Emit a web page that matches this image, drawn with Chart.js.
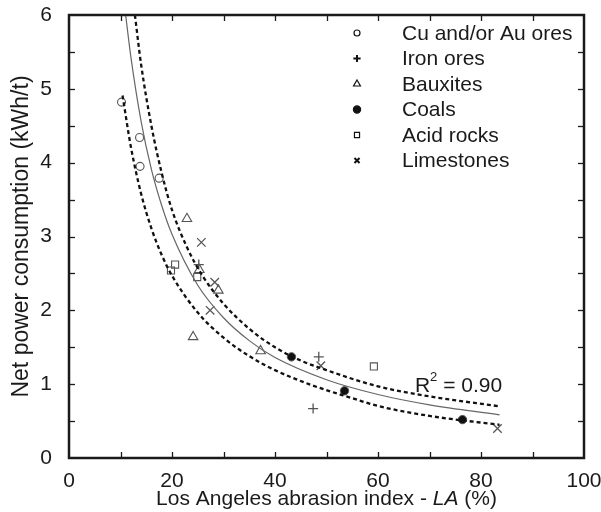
<!DOCTYPE html>
<html><head><meta charset="utf-8">
<script src="https://cdn.jsdelivr.net/npm/chart.js@4.4.0/dist/chart.umd.min.js"></script>
<style>html,body{margin:0;padding:0;background:#fff;overflow:hidden}</style>
</head><body>
<canvas id="c" width="601" height="512"></canvas>
<script>
// ---- tick labels ----
const xTickValues = [0, 20, 40, 60, 80, 100];
const yTickValues = [0, 1, 2, 3, 4, 5, 6];

// ---- measured points (LA %, kWh/t) ----
const cuAuX = [10.2, 13.7, 13.8, 17.5];
const cuAuY = [4.82, 4.34, 3.95, 3.79];
const ironX = [25.2, 48.5, 47.4];
const ironY = [2.62, 1.37, 0.67];
const bauxX = [22.9, 25.3, 29.0, 24.1, 37.2];
const bauxY = [3.24, 2.55, 2.27, 1.64, 1.45];
const coalX = [43.2, 53.5, 76.4];
const coalY = [1.37, 0.91, 0.52];
const acidX = [19.8, 20.6, 24.9, 59.2];
const acidY = [2.54, 2.62, 2.45, 1.24];
const limeX = [25.7, 28.3, 27.4, 48.9, 83.2];
const limeY = [2.92, 2.38, 2.00, 1.25, 0.40];

// ---- fitted curve and confidence band ----
const fitX = [11.0, 12, 14, 16, 18, 20, 25, 30, 35, 40, 50, 60, 70, 83.6];
const fitY = [6.0, 5.44, 4.56, 3.91, 3.42, 3.03, 2.34, 1.90, 1.59, 1.36, 1.06, 0.86, 0.72, 0.585];
const upX = [12.8, 14, 16, 18, 20, 23, 26, 30, 35, 40, 45, 50, 60, 70, 83.6];
const upY = [6.0, 5.33, 4.50, 3.86, 3.36, 2.84, 2.46, 2.09, 1.75, 1.50, 1.32, 1.19, 0.97, 0.835, 0.70];
const loX = [10.4, 12, 14, 16, 18, 20, 25, 30, 35, 40, 47, 55, 60, 70, 83.6];
const loY = [4.91, 4.22, 3.58, 3.11, 2.75, 2.47, 1.97, 1.63, 1.38, 1.19, 0.99, 0.81, 0.705, 0.57, 0.45];

const xTitleParts = ['Los Angeles abrasion index - ', 'LA', ' (%)'];
const yTitle = 'Net power consumption (kWh/t)';
const r2Text = 'R';
const r2Sup = '2';
const r2Rest = ' = 0.90';
const r2At = [84.1, 0.97];

const FONT = "'Liberation Sans', Arial, sans-serif";
const INK = '#1a1a1a';
const MARK = '#555555';

function pts(xs, ys) { return xs.map((x, i) => ({x: x, y: ys[i]})); }

function scatter(label, xs, ys, style, radius, fill, bw) {
  return {
    type: 'scatter', label: label, data: pts(xs, ys),
    pointStyle: style, pointRadius: radius, pointHoverRadius: radius,
    pointBackgroundColor: fill, pointBorderColor: MARK, pointBorderWidth: bw,
    showLine: false, legend: true
  };
}
function curve(xs, ys, dash, color, width) {
  return {
    type: 'line', label: '', data: pts(xs, ys), borderColor: color, borderWidth: width,
    borderDash: dash, pointRadius: 0, cubicInterpolationMode: 'monotone',
    fill: false, legend: false
  };
}

const datasets = [
  curve(fitX, fitY, [], '#666666', 1.2),
  curve(upX, upY, [4, 3], '#111111', 2.3),
  curve(loX, loY, [4, 3], '#111111', 2.3),
  scatter('Cu and/or Au ores', cuAuX, cuAuY, 'circle', 4, 'rgba(0,0,0,0)', 1.1),
  scatter('Iron ores', ironX, ironY, 'cross', 5, 'rgba(0,0,0,0)', 1.3),
  scatter('Bauxites', bauxX, bauxY, 'triangle', 5.5, 'rgba(0,0,0,0)', 1.1),
  scatter('Coals', coalX, coalY, 'circle', 4.2, '#111111', 1),
  scatter('Acid rocks', acidX, acidY, 'rect', 5, 'rgba(0,0,0,0)', 1.1),
  scatter('Limestones', limeX, limeY, 'crossRot', 6, 'rgba(0,0,0,0)', 1.3)
];

const framePlugin = {
  id: 'frame',
  afterDatasetsDraw(chart) {
    const ctx = chart.ctx, a = chart.chartArea;
    const xs = chart.scales.x, ys = chart.scales.y;
    ctx.save();
    ctx.strokeStyle = INK;
    // inward ticks
    ctx.lineWidth = 1.3;
    for (let v = 10; v < 100; v += 10) {
      const px = Math.round(xs.getPixelForValue(v)) + 0.5;
      ctx.beginPath(); ctx.moveTo(px, a.bottom); ctx.lineTo(px, a.bottom - 6); ctx.stroke();
      ctx.beginPath(); ctx.moveTo(px, a.top); ctx.lineTo(px, a.top + 6); ctx.stroke();
    }
    for (let v = 0.5; v < 6; v += 0.5) {
      const py = Math.round(ys.getPixelForValue(v)) + 0.5;
      ctx.beginPath(); ctx.moveTo(a.left, py); ctx.lineTo(a.left + 6, py); ctx.stroke();
      ctx.beginPath(); ctx.moveTo(a.right, py); ctx.lineTo(a.right - 6, py); ctx.stroke();
    }
    // box
    ctx.lineWidth = 2.5;
    ctx.strokeRect(a.left, a.top, a.right - a.left, a.bottom - a.top);

    // legend
    const lx = 357, tx = 402, ly0 = 33, dy = 25.5;
    let row = 0;
    ctx.font = '21px ' + FONT;
    ctx.textBaseline = 'middle';
    ctx.textAlign = 'left';
    chart.data.datasets.forEach(ds => {
      if (!ds.legend) return;
      const y = ly0 + row * dy;
      const r = ds.pointStyle === 'circle' && ds.pointBackgroundColor !== '#111111' ? 3 : (ds.pointStyle === 'triangle' ? 4 : 3.6);
      ctx.save();
      ctx.strokeStyle = '#111';
      ctx.fillStyle = ds.pointBackgroundColor;
      ctx.lineWidth = (ds.pointStyle === 'cross' || ds.pointStyle === 'crossRot') ? 2 : 1.2;
      Chart.helpers.drawPoint(ctx, {pointStyle: ds.pointStyle, radius: r, borderWidth: ctx.lineWidth}, lx, y);
      ctx.restore();
      ctx.fillStyle = INK;
      ctx.fillText(ds.label, tx, y + 1);
      row++;
    });

    // R^2 label
    const rx = xs.getPixelForValue(r2At[0]), ry = ys.getPixelForValue(r2At[1]);
    ctx.font = '21px ' + FONT;
    const wRest = ctx.measureText(r2Rest).width;
    const wR = ctx.measureText(r2Text).width;
    ctx.font = '13px ' + FONT;
    const wSup = ctx.measureText(r2Sup).width;
    let x0 = rx - wRest - wSup - wR;
    ctx.fillStyle = INK;
    ctx.font = '21px ' + FONT;
    ctx.fillText(r2Text, x0, ry);
    ctx.font = '13px ' + FONT;
    ctx.fillText(r2Sup, x0 + wR, ry - 9);
    ctx.font = '21px ' + FONT;
    ctx.fillText(r2Rest, x0 + wR + wSup, ry);

    // x-axis title with italic LA
    const fonts = ['21px ' + FONT, 'italic 21px ' + FONT, '21px ' + FONT];
    const widths = xTitleParts.map((t, i) => { ctx.font = fonts[i]; return ctx.measureText(t).width; });
    const total = widths.reduce((s, w) => s + w, 0);
    let cx = (a.left + a.right) / 2 - total / 2;
    const ty = 499;
    xTitleParts.forEach((t, i) => { ctx.font = fonts[i]; ctx.fillText(t, cx, ty); cx += widths[i]; });

    // y-axis title
    ctx.save();
    ctx.translate(22, (a.top + a.bottom) / 2);
    ctx.rotate(-Math.PI / 2);
    ctx.textAlign = 'center';
    ctx.font = '23px ' + FONT;
    ctx.fillText(yTitle, 0, 0);
    ctx.restore();
    ctx.restore();
  }
};

new Chart(document.getElementById('c'), {
  data: {datasets: datasets},
  options: {
    responsive: false, animation: false, devicePixelRatio: 1,
    layout: {padding: {left: 10, right: 17, top: 15, bottom: 0}},
    plugins: {legend: {display: false}, tooltip: {enabled: false}},
    elements: {point: {hitRadius: 0}},
    scales: {
      x: {
        type: 'linear', min: 0, max: 100,
        afterBuildTicks: s => { s.ticks = xTickValues.map(v => ({value: v})); },
        afterFit: s => { s.height = 54; s.paddingLeft = 0; s.paddingRight = 0; },
        grid: {display: false}, border: {display: false},
        ticks: {font: {family: FONT, size: 21}, color: INK, padding: 3, maxRotation: 0, autoSkip: false},
        title: {display: false}
      },
      y: {
        type: 'linear', min: 0, max: 6,
        afterBuildTicks: s => { s.ticks = yTickValues.map(v => ({value: v})); },
        afterFit: s => { s.width = 59; s.paddingTop = 0; s.paddingBottom = 0; },
        grid: {display: false}, border: {display: false},
        ticks: {font: {family: FONT, size: 21}, color: INK, padding: 9},
        title: {display: false}
      }
    }
  },
  plugins: [framePlugin]
});
</script>
</body></html>
